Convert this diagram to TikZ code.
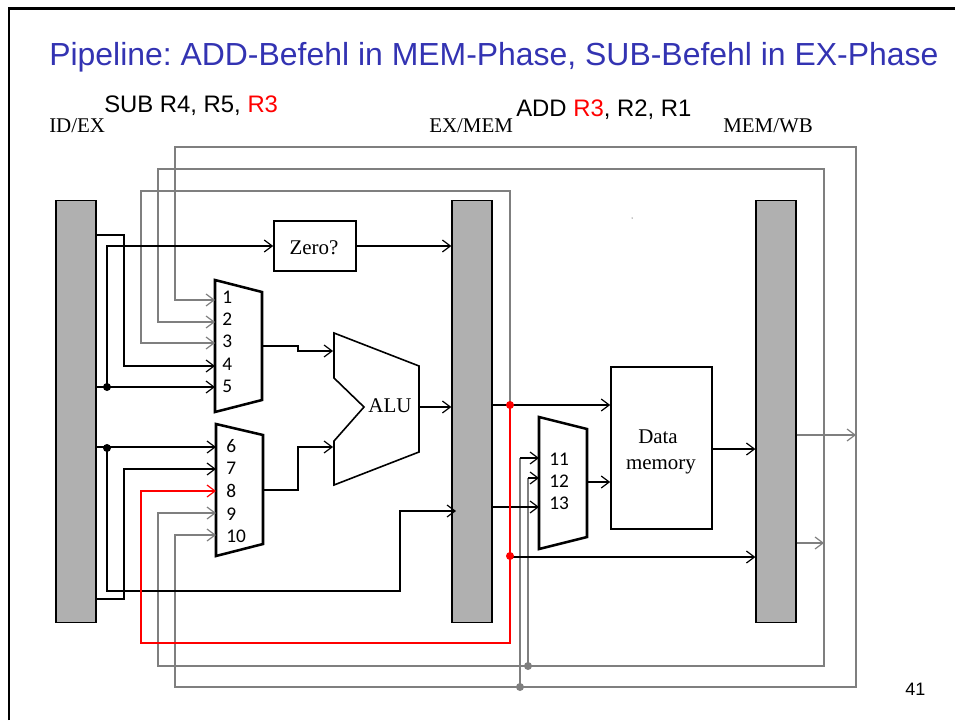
\documentclass[tikz,border=0pt]{standalone}
\usepackage{fontspec}
\setmainfont{Liberation Serif}
\newfontfamily\arialfont{Liberation Sans}
\newfontfamily\calibrifont{Carlito}
\usetikzlibrary{arrows.meta,calc}
\definecolor{titleblue}{RGB}{51,51,178}
\definecolor{wiregray}{RGB}{127,127,127}
\definecolor{bargray}{RGB}{176,176,176}
\tikzset{
	>={Straight Barb[length=6pt,width=9pt,line width=0.9pt]},
	latchbar/.style={draw=black, line width=0.9pt, fill=bargray, minimum width=30pt, minimum height=317pt, inner sep=0pt},
	unitbox/.style={draw=black, line width=1.2pt, fill=white, inner sep=0pt},
	unittext/.style={anchor=base, inner sep=0pt, font=\fontsize{15.7}{15.7}\selectfont},
	muxshape/.style={draw=black, line width=1.9pt, fill=white, line join=miter},
	wire/.style={draw=black, line width=1.1pt},
	graywire/.style={draw=wiregray, line width=1.4pt},
	redwire/.style={draw=red, line width=1.3pt},
	muxnum/.style={anchor=west, inner sep=0pt, font=\calibrifont\fontsize{14.5}{14.5}\selectfont},
	stagelabel/.style={anchor=base west, inner sep=0pt, font=\fontsize{15.7}{15.7}\selectfont},
	instrlabel/.style={anchor=base west, inner sep=0pt, font=\arialfont\fontsize{17.9}{17.9}\selectfont},
}
\begin{document}
\frenchspacing
\begin{tikzpicture}[x=0.75pt,y=-0.75pt]
		%%%%% START %%%%%
		\useasboundingbox (0,0) rectangle (955,720);
		\draw[line width=2.2pt] (9,720) -- (9,8.5) -- (955,8.5);
		
		\node[anchor=base west, inner sep=0pt, text=titleblue, font=\arialfont\fontsize{23.95}{24}\selectfont] (title) at (49,66) {Pipeline: ADD-Befehl in MEM-Phase, SUB-Befehl in EX-Phase};
		\node[instrlabel] (subinstr) at (104,113) {SUB R4, R5, \textcolor{red}{R3}};
		\node[instrlabel] (addinstr) at (516,117) {ADD \textcolor{red}{R3}, R2, R1};
		\node[stagelabel] (idexlabel) at (49,133) {ID/EX};
		\node[stagelabel] (exmemlabel) at (429,133) {EX/MEM};
		\node[stagelabel] (memwblabel) at (723,133) {MEM/WB};
		\node[anchor=base west, inner sep=0pt, font=\arialfont\fontsize{13.5}{13.5}\selectfont] (pagenum) at (905,695) {41};
		\fill (632,218) circle (0.5);
		
		% latches and units
		\node[latchbar] (idex) at (76,411.5) {};
		\node[latchbar] (exmem) at (472,411.5) {};
		\node[latchbar] (memwb) at (776,411.5) {};
		\node[unitbox, minimum width=61.5pt, minimum height=37.5pt] (zero) at (315,246) {};
		\node[unittext] (zerotext) at (314,254) {Zero?};
		\node[unitbox, minimum width=75.75pt, minimum height=121.5pt] (dmem) at (661.5,448) {};
		\node[unittext] (datatext) at (658,443) {Data};
		\node[unittext] (memorytext) at (661,469) {memory};
		
		\draw[muxshape] (215,280) -- (262,292) -- (262,400) -- (215,412) -- cycle;
		\draw[muxshape] (216,424) -- (263,435) -- (263,544) -- (216,556) -- cycle;
		\draw[muxshape] (539,417) -- (587,429) -- (587,537) -- (539,549) -- cycle;
		\draw[line width=1.2pt, fill=white] (334,333) -- (419,366) -- (419,452) -- (334,485) -- (334,441) -- (364,407) -- (334,378) -- cycle;
		\node[unittext] (alu) at (390,412) {ALU};
		
		% mux numbers
		\node[muxnum] (n1) at (222,297) {1};
		\node[muxnum] (n2) at (222,319) {2};
		\node[muxnum] (n3) at (222,341) {3};
		\node[muxnum] (n4) at (222,364) {4};
		\node[muxnum] (n5) at (222,386) {5};
		\node[muxnum] (n6) at (226,446) {6};
		\node[muxnum] (n7) at (226,468) {7};
		\node[muxnum] (n8) at (226,491) {8};
		\node[muxnum] (n9) at (226,514) {9};
		\node[muxnum] (n10) at (226,536) {10};
		\node[muxnum] (n11) at (549,459) {11};
		\node[muxnum] (n12) at (549,481) {12};
		\node[muxnum] (n13) at (549,503) {13};
		
		% mux inputs and junctions
		\coordinate (in1) at (215,300);
		\coordinate (in2) at (215,322);
		\coordinate (in3) at (215,343);
		\coordinate (in4) at (215,366);
		\coordinate (in5) at (215,387);
		\coordinate (in6) at (216,447);
		\coordinate (in7) at (216,469);
		\coordinate (in8) at (216,491);
		\coordinate (in9) at (216,513);
		\coordinate (in10) at (216,535);
		\coordinate (in11) at (539,458);
		\coordinate (in12) at (539,478);
		\coordinate (in13) at (539,507);
		\coordinate (laneAend) at (175,147);
		\coordinate (laneAbot) at (175,687);
		\coordinate (laneBend) at (158,169);
		\coordinate (laneBbot) at (158,666);
		\coordinate (laneC) at (141,191);
		\coordinate (redlow) at (141,643);
		\coordinate (tapA) at (856,435);
		\coordinate (tapB) at (824,543);
		\coordinate (dotA) at (520,687);
		\coordinate (dotB) at (528,666);
		\coordinate (fwdtop) at (510,405);
		\coordinate (fwdlow) at (510,556);
		
		% gray forwarding lanes
		\draw[graywire,->] (tapA) |- (laneAend) |- (in1);
		\draw[graywire,->] (tapA) |- (laneAbot) |- (in10);
		\draw[graywire,->] (tapB) |- (laneBend) |- (in2);
		\draw[graywire,->] (tapB) |- (laneBbot) |- (in9);
		\draw[graywire,->] (fwdtop) |- (laneC) |- (in3);
		\draw[graywire,->] (memwb.east |- tapA) -- (tapA);
		\draw[graywire,->] (memwb.east |- tapB) -- (tapB);
		\draw[graywire] (dotA) -- (dotA |- in11);
		\draw[graywire] (dotB) -- (dotB |- in12);
		\fill[wiregray] (dotA) circle (4);
		\fill[wiregray] (dotB) circle (4);
		
		% black data paths
		\coordinate (joinA) at (107,387);
		\coordinate (joinB) at (107,448);
		\coordinate (laneD) at (124,235);
		\coordinate (laneE) at (124,599);
		\coordinate (alulane) at (107,591);
		\coordinate (aluturn) at (400,591);
		\draw[wire,->] (idex.east |- laneD) -- (laneD) |- (in4);
		\draw[wire,->] (joinA) |- (zero.west);
		\draw[wire,->] (idex.east |- in5) -- (in5);
		\draw[wire,->] (idex.east |- in6) -- (in6);
		\draw[wire,->] (idex.east |- laneE) -- (laneE) |- (in7);
		\draw[wire,->] (joinB) -- (alulane) -- (aluturn) |- (456,511);
		\fill (joinA) circle (4);
		\fill (joinB) circle (4);
		\draw[wire,->] (zero.east) -- (exmem.west |- zero.east);
		\draw[wire,->] (262,346) -- (298,346) -- (298,351) -- (333,351);
		\draw[wire,->] (263,490) -- (298,490) -- (298,447) -- (333,447);
		\draw[wire,->] (419,407) -- (exmem.west |- 0,407);
		\draw[wire,->] (exmem.east |- fwdtop) -- (dmem.west |- fwdtop);
		\draw[wire,->] (exmem.east |- in13) -- (in13);
		\draw[wire,->] (dotA |- in11) -- (in11);
		\draw[wire,->] (dotB |- in12) -- (in12);
		\draw[wire,->] (587,482) -- (dmem.west |- 0,482);
		\draw[wire,->] (dmem.east |- 0,449) -- (memwb.west |- 0,449);
		\draw[wire,->] (fwdlow |- 0,557) -- (memwb.west |- 0,557);
		
		% forwarded result
		\draw[redwire,->] (fwdtop) -- (fwdlow) |- (redlow) |- (in8);
		\fill[red] (fwdtop) circle (4);
		\fill[red] (fwdlow) circle (4);
		%%%%% END %%%%%
	\end{tikzpicture}
\end{document}
